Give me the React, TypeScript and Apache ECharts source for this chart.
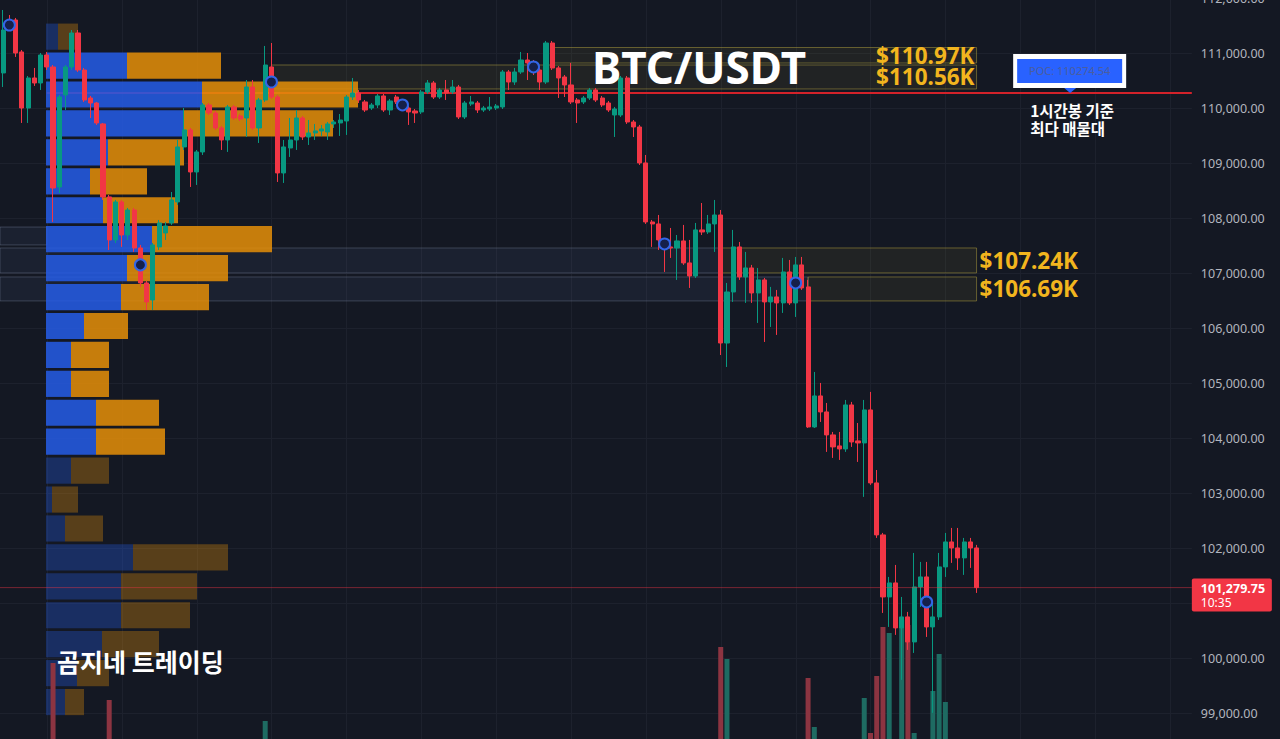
import React, { useEffect, useRef } from "react";
import * as echarts from "echarts";

// ---------- data ----------
const SLOT_COUNT = 191; // candle slots incl. empty right margin
const PRICE_MIN = 98000;
const PRICE_MAX = 112000;
const PRICE_INTERVAL = 1000;

// [open, close, low, high]  (1h candles)
const candles: number[][] = [
  [110637, 111418, 110382, 111782], [111528, 111491, 111418, 111691], [111600, 111000, 110928, 111637],
  [111019, 110000, 109728, 111055], [110000, 110546, 109728, 110582], [110546, 110455, 110401, 110728],
  [110455, 110964, 110328, 111000], [110964, 110746, 110691, 111019], [110746, 108546, 107928, 110782],
  [108564, 110200, 108455, 110237], [110237, 110746, 109964, 110782], [110746, 111364, 110691, 111418],
  [111364, 110691, 110655, 111418], [110691, 110146, 110110, 110728], [110182, 110091, 109819, 110219],
  [110091, 109728, 109692, 110110], [109710, 108383, 108328, 109728], [108383, 107601, 107419, 108419],
  [107601, 108292, 107546, 108328], [108292, 107691, 107474, 108328], [107691, 108146, 107601, 108183],
  [108146, 107455, 107383, 108183], [107455, 106819, 106747, 107510], [106819, 106474, 106328, 106856],
  [106510, 107510, 106328, 107546], [107474, 107910, 107419, 107964], [107728, 107855, 107601, 107928],
  [107910, 108328, 107874, 108473], [108292, 109292, 108237, 109419], [109292, 109601, 109237, 110000],
  [109601, 108837, 108564, 109637], [108837, 109201, 108601, 109237], [109201, 110055, 109146, 110091],
  [110055, 109909, 109873, 110091], [109909, 109637, 109601, 109946], [109637, 109419, 109237, 109673],
  [109419, 110019, 109201, 110055], [110019, 109819, 109782, 110055], [109855, 109800, 109764, 109891],
  [109819, 110382, 109473, 110509], [110382, 109637, 109601, 110509], [109637, 110146, 109364, 110182],
  [110146, 110782, 110110, 111128], [110746, 110200, 110164, 111182], [110200, 108819, 108655, 110237],
  [108819, 109292, 108637, 109419], [109273, 109419, 109110, 109819], [109419, 109819, 109237, 109964],
  [109819, 109473, 109419, 109855], [109473, 109546, 109328, 109782], [109546, 109583, 109419, 109710],
  [109583, 109619, 109492, 109692], [109564, 109710, 109419, 109746], [109710, 109746, 109637, 109782],
  [109728, 109782, 109492, 109891], [109764, 110200, 109510, 110237], [110200, 110273, 110146, 110546],
  [110273, 110146, 110091, 110328], [110110, 109964, 109928, 110146], [110000, 110055, 109964, 110091],
  [110055, 110219, 110000, 110255], [110219, 109964, 109928, 110255], [109964, 110128, 109873, 110164],
  [110200, 110110, 110073, 110237], [110073, 110037, 110000, 110128], [110000, 109928, 109692, 110037],
  [109946, 109909, 109728, 109982], [109928, 110291, 109891, 110328], [110291, 110455, 110255, 110509],
  [110455, 110200, 110164, 110491], [110200, 110328, 110164, 110364], [110328, 110273, 110146, 110509],
  [110291, 110382, 110255, 110509], [110382, 109837, 109800, 110419], [109837, 110091, 109800, 110128],
  [110073, 110110, 110037, 110219], [110091, 109964, 109909, 110128], [109964, 110000, 109928, 110037],
  [109982, 110019, 109946, 110200], [110000, 110037, 109964, 110073], [110019, 110655, 109982, 110691],
  [110655, 110473, 110328, 110691], [110473, 110655, 110419, 110728], [110655, 110873, 110619, 111019],
  [110873, 110819, 110509, 111000], [110800, 110691, 110600, 110873], [110691, 110473, 110328, 110728],
  [110473, 111182, 110437, 111219], [111182, 110728, 110691, 111219], [110728, 110546, 110182, 110764],
  [110564, 110419, 110200, 110600], [110419, 110110, 110073, 110819], [110146, 110091, 109728, 110182],
  [110110, 110182, 110073, 110219], [110182, 110328, 110146, 110364], [110328, 110146, 110110, 110364],
  [110182, 110055, 110019, 110219], [110091, 109964, 109928, 110128], [109873, 109982, 109473, 110019],
  [109873, 110546, 109837, 110582], [110546, 109746, 109710, 110582], [109746, 109655, 109473, 109782],
  [109655, 109001, 108964, 109692], [109001, 107928, 107892, 109146], [107928, 107892, 107474, 107964],
  [107892, 107601, 107419, 108055], [107601, 107492, 107019, 107637], [107474, 107455, 107274, 107819],
  [107455, 107583, 106874, 107691], [107583, 107183, 107147, 107874], [107183, 106946, 106728, 107601],
  [106946, 107783, 106910, 107910], [107783, 107746, 107691, 108273], [107746, 107892, 107710, 108055],
  [107892, 108055, 107383, 108328], [108055, 105727, 105509, 108146], [105727, 106655, 105291, 106819],
  [106655, 107474, 106474, 107783], [107474, 106928, 106874, 107564], [106928, 107092, 106456, 107383],
  [107092, 106637, 106456, 107147], [106637, 106874, 106092, 107092], [106874, 106474, 105746, 106910],
  [106474, 106565, 106019, 106747], [106565, 106456, 105874, 106692], [106456, 107019, 106274, 107274],
  [107019, 106456, 106419, 107237], [106456, 107147, 106201, 107292], [107147, 106728, 106692, 107292],
  [106747, 104201, 104183, 106874], [104201, 104765, 104183, 105201], [104765, 104474, 104292, 105001],
  [104474, 104056, 103747, 104637], [104056, 103838, 103638, 104110], [103856, 103801, 103601, 104110],
  [103801, 104601, 103747, 104692], [104601, 103928, 103838, 104656], [103947, 103910, 103565, 104273],
  [103910, 104510, 102929, 104692], [104510, 103183, 103147, 104838], [103183, 102238, 102183, 103418],
  [102238, 101110, 100819, 102274], [101110, 101365, 100565, 101474], [101365, 100547, 100420, 101692],
  [100547, 100747, 99602, 101110], [100747, 100292, 100147, 100838], [100292, 101292, 100092, 101910],
  [101292, 101474, 100929, 101747], [101474, 100565, 100383, 101747], [100565, 100747, 99002, 101001],
  [100747, 101656, 100692, 101910], [101656, 102110, 101474, 102274], [102110, 102001, 101729, 102365],
  [102001, 101820, 101601, 102365], [101820, 102110, 101511, 102183], [102110, 102001, 101638, 102183],
  [102001, 101279.75, 101183, 102056],
];

// [candle index, volume] for the volume bars that rise into view
const volumeBars: number[][] = [
  [8, 1050], [17, 680], [42, 470], [115, 1210], [116, 1090], [129, 900], [130, 410],
  [138, 700], [139, 350], [140, 920], [141, 1410], [142, 1350], [144, 1480], [145, 1430],
  [146, 350], [149, 770], [150, 1140], [151, 660],
];
const VOLUME_AXIS_MAX = 7700;

// pivot markers [candle index, price]
const pivotMarkers: number[][] = [
  [1, 111509], [22, 107147], [43, 110473], [64, 110055],
  [85, 110746], [106, 107528], [127, 106819], [148, 101019],
];

// volume profile rows, from the top
const profileTop = 111560;
const profileStep = 526;
const profileBuy = [12, 81, 156, 138, 62, 44, 57, 106, 81, 75, 38, 25, 25, 50, 50, 25, 6, 19, 87, 75, 75, 56, 31, 19];
const profileSell = [20, 94, 156, 149, 76, 57, 75, 120, 101, 88, 44, 38, 38, 63, 69, 38, 26, 38, 95, 76, 69, 57, 32, 19];
const valueAreaRows = [1, 14];
const pocPrice = 110274.54;
const pocStartIndex = 7;
const pocLabelIndex = 171;

// zones
const zoneFrom = [0, 0, 0, 88, 43, 115, 129];
const zoneTo = [7, 115, 129, 156, 156, 156, 156];
const zoneTop = [107836, 107455, 106928, 111100, 110782, 107455, 106928];
const zoneBottom = [107510, 107001, 106492, 110818, 110346, 107001, 106492];
const zoneKind = ["band", "band", "band", "box", "box", "box", "box"];
const zoneLabel = ["", "", "", "$110.97K", "$110.56K", "$107.24K", "$106.69K"];
const zoneLabelInside = [false, false, false, true, true, false, false];

// vertical time grid (candle indices)
const timeGridIdx = [7, 19, 31, 43, 55, 67, 79, 91, 103, 115, 127, 139, 151, 163, 175, 187];

const lastPrice = 101279.75;
const lastTime = "10:35";
const titleText = "BTC/USDT";
const brandText = "곰지네 트레이딩";
const pocNote1 = "1시간봉 기준";
const pocNote2 = "최다 매물대";

// ---------- style ----------
const BG = "#141823";
const UP = "#089981";
const DOWN = "#f23645";
const FONT = '"Noto Sans", "Open Sans", sans-serif';
const KFONT = '"Noto Sans CJK KR", "Noto Sans", sans-serif';
const GOLD = "#f2b51e";
const GRID_LINE = "#1d212d";

const fmtPrice = (v: number) =>
  v.toLocaleString("en-US", { minimumFractionDigits: 2, maximumFractionDigits: 2 });

const slots = Array.from({ length: SLOT_COUNT }, (_, i) => String(i));

function buildOption(): any {
  const volData: any[] = candles.map(() => "-");
  volumeBars.forEach(([i, v]) => {
    const c = candles[i];
    volData[i] = { value: v, itemStyle: { color: c[1] >= c[0] ? "#1e6b62" : "#8c3441" } };
  });

  return {
    animation: false,
    backgroundColor: BG,
    grid: [
      { left: 0, top: -2, width: 1191.84, height: 770, outerBoundsMode: "none", containLabel: false },
      { left: 46, top: -2, width: 400, height: 770, outerBoundsMode: "none", containLabel: false },
    ],
    xAxis: [
      { type: "category", gridIndex: 0, data: slots, show: false, boundaryGap: true },
      { type: "value", gridIndex: 1, min: 0, max: 400, show: false },
    ],
    yAxis: [
      {
        type: "value",
        gridIndex: 0,
        position: "right",
        min: PRICE_MIN,
        max: PRICE_MAX,
        interval: PRICE_INTERVAL,
        axisLine: { show: false },
        axisTick: { show: false },
        splitLine: { lineStyle: { color: GRID_LINE, width: 1 } },
        axisLabel: {
          color: "#b2b5be",
          fontSize: 12.5,
          fontFamily: FONT,
          margin: 9,
          showMinLabel: false,
          showMaxLabel: true,
          formatter: (v: number) => (Math.abs(v - lastPrice) < 500 ? "" : fmtPrice(v)),
        },
      },
      { type: "value", gridIndex: 1, min: PRICE_MIN, max: PRICE_MAX, show: false },
      { type: "value", gridIndex: 0, min: 0, max: VOLUME_AXIS_MAX, show: false },
    ],
    series: [
      // vertical time grid lines
      {
        type: "custom",
        xAxisIndex: 0,
        yAxisIndex: 0,
        z: 0,
        silent: true,
        encode: { x: 0 },
        data: timeGridIdx.map((i) => [i]),
        renderItem: (params: any, api: any) => {
          const cs = params.coordSys;
          const x = Math.round(api.coord([api.value(0), PRICE_MIN])[0]) + 0.5;
          return {
            type: "line",
            shape: { x1: x, y1: cs.y, x2: x, y2: cs.y + cs.height },
            style: { stroke: GRID_LINE, lineWidth: 1 },
          };
        },
      },
      // zones
      {
        type: "custom",
        xAxisIndex: 0,
        yAxisIndex: 0,
        z: 1,
        silent: true,
        encode: { x: [0, 1], y: [2, 3] },
        data: zoneFrom.map((f, i) => [f, zoneTo[i], zoneTop[i], zoneBottom[i]]),
        renderItem: (params: any, api: any) => {
          const idx = params.dataIndex;
          const from = api.value(0);
          const to = api.value(1);
          const a = api.coord([from, api.value(2)]);
          const b = api.coord([to, api.value(3)]);
          const bw = api.size([1, 0])[0];
          const x0 = from === 0 ? a[0] - bw / 2 : a[0];
          const isBox = zoneKind[idx] === "box";
          const children: any[] = [
            {
              type: "rect",
              shape: { x: x0, y: a[1], width: b[0] - x0, height: b[1] - a[1] },
              style: {
                fill: isBox ? "rgba(170,160,60,0.09)" : "rgba(100,120,170,0.10)",
                stroke: isBox ? "rgba(165,150,60,0.55)" : "rgba(130,140,165,0.35)",
                lineWidth: 1,
              },
            },
          ];
          if (zoneLabel[idx]) {
            const inside = zoneLabelInside[idx];
            children.push({
              type: "text",
              x: inside ? b[0] - 2 : b[0] + 3,
              y: (a[1] + b[1]) / 2,
              z2: 10,
              style: {
                text: zoneLabel[idx],
                fill: GOLD,
                fontSize: 22.5,
                lineHeight: 20,
                fontWeight: "bold",
                fontFamily: FONT,
                align: inside ? "right" : "left",
                verticalAlign: "middle",
              },
            });
          }
          return { type: "group", children };
        },
      },
      // POC line (under profile)
      {
        type: "custom",
        xAxisIndex: 0,
        yAxisIndex: 0,
        z: 2,
        silent: true,
        encode: { x: 0, y: 1 },
        data: [[pocStartIndex, pocPrice]],
        renderItem: (params: any, api: any) => {
          const cs = params.coordSys;
          const p = api.coord([api.value(0), api.value(1)]);
          return {
            type: "line",
            shape: { x1: p[0], y1: p[1], x2: cs.x + cs.width, y2: p[1] },
            style: { stroke: "#d3222a", lineWidth: 2 },
          };
        },
      },
      // volume profile
      {
        type: "custom",
        xAxisIndex: 1,
        yAxisIndex: 1,
        z: 3,
        silent: true,
        encode: { x: [0, 1], y: 2 },
        data: profileBuy.map((b, k) => [b, profileSell[k], profileTop - k * profileStep]),
        renderItem: (params: any, api: any) => {
          const k = params.dataIndex;
          const buy = api.value(0);
          const sell = api.value(1);
          const top = api.value(2);
          const gap = 25;
          const a = api.coord([0, top - gap]);
          const b = api.coord([buy, top - profileStep + gap]);
          const c = api.coord([buy + sell, top - profileStep + gap]);
          const inVA = k >= valueAreaRows[0] && k <= valueAreaRows[1];
          return {
            type: "group",
            children: [
              {
                type: "rect",
                shape: { x: a[0], y: a[1], width: b[0] - a[0], height: b[1] - a[1] },
                style: { fill: inVA ? "rgba(37,92,229,0.86)" : "rgba(37,92,229,0.33)" },
              },
              {
                type: "rect",
                shape: { x: b[0], y: a[1], width: c[0] - b[0], height: b[1] - a[1] },
                style: { fill: inVA ? "rgba(228,142,8,0.86)" : "rgba(228,142,8,0.33)" },
              },
            ],
          };
        },
      },
      // volume bars
      {
        type: "bar",
        xAxisIndex: 0,
        yAxisIndex: 2,
        z: 3,
        barWidth: 5,
        silent: true,
        data: volData,
      },
      // candles
      {
        type: "candlestick",
        xAxisIndex: 0,
        yAxisIndex: 0,
        z: 4,
        barWidth: 4.6,
        silent: true,
        data: candles,
        itemStyle: {
          color: UP,
          color0: DOWN,
          borderColor: UP,
          borderColor0: DOWN,
          borderWidth: 1,
        },
      },
      // pivot markers
      {
        type: "scatter",
        xAxisIndex: 0,
        yAxisIndex: 0,
        z: 5,
        silent: true,
        symbol: "circle",
        symbolSize: 11,
        data: pivotMarkers,
        itemStyle: { color: "#16204a", borderColor: "#3366e8", borderWidth: 2, opacity: 1 },
      },
      // last price line + tag
      {
        type: "custom",
        xAxisIndex: 0,
        yAxisIndex: 0,
        z: 6,
        silent: true,
        encode: { x: 0, y: 1 },
        data: [[candles.length - 1, lastPrice]],
        renderItem: (params: any, api: any) => {
          const cs = params.coordSys;
          const y = api.coord([api.value(0), api.value(1)])[1];
          const right = cs.x + cs.width;
          return {
            type: "group",
            children: [
              {
                type: "line",
                shape: { x1: cs.x, y1: y, x2: right, y2: y },
                style: { stroke: "rgba(242,54,69,0.45)", lineWidth: 1 },
              },
              {
                type: "rect",
                shape: { x: right, y: y - 9, width: 80, height: 33, r: 2 },
                style: { fill: DOWN },
              },
              {
                type: "text",
                x: right + 9,
                y: y + 1,
                style: {
                  text: fmtPrice(lastPrice),
                  fill: "#ffffff",
                  fontSize: 12.5,
                  lineHeight: 13,
                  fontWeight: "bold",
                  fontFamily: FONT,
                  verticalAlign: "middle",
                },
              },
              {
                type: "text",
                x: right + 9,
                y: y + 15,
                style: {
                  text: lastTime,
                  fill: "#ffffff",
                  fontSize: 12,
                  lineHeight: 13,
                  fontFamily: FONT,
                  verticalAlign: "middle",
                },
              },
            ],
          };
        },
      },
      // POC label
      {
        type: "custom",
        xAxisIndex: 0,
        yAxisIndex: 0,
        z: 10,
        silent: true,
        encode: { x: 0, y: 1 },
        data: [[pocLabelIndex, pocPrice]],
        renderItem: (params: any, api: any) => {
          const p = api.coord([api.value(0), api.value(1)]);
          const ax = p[0];
          const ay = p[1];
          return {
            type: "group",
            children: [
              { type: "rect", shape: { x: ax - 57, y: ay - 39, width: 113, height: 34 }, style: { fill: "#ffffff" } },
              { type: "rect", shape: { x: ax - 53, y: ay - 34, width: 105, height: 24 }, style: { fill: "#2962ff" } },
              {
                type: "text",
                x: ax - 0.5,
                y: ay - 22,
                style: {
                  text: "POC: " + pocPrice,
                  fill: "#4b5e9e",
                  fontSize: 11,
                  fontFamily: FONT,
                  align: "center",
                  verticalAlign: "middle",
                },
              },
              {
                type: "polygon",
                shape: { points: [[ax - 6, ay - 5], [ax + 6, ay - 5], [ax, ay]] },
                style: { fill: "#2962ff" },
              },
              {
                type: "text",
                x: ax - 40,
                y: ay + 17,
                style: { text: pocNote1, fill: "#ffffff", fontSize: 15.5, lineHeight: 16, fontWeight: "bold", fontFamily: KFONT, verticalAlign: "middle" },
              },
              {
                type: "text",
                x: ax - 40,
                y: ay + 35,
                style: { text: pocNote2, fill: "#ffffff", fontSize: 15.5, lineHeight: 16, fontWeight: "bold", fontFamily: KFONT, verticalAlign: "middle" },
              },
            ],
          };
        },
      },
    ],
    graphic: [
      {
        type: "text",
        x: 699,
        y: 67,
        z: 20,
        silent: true,
        style: {
          text: titleText,
          fill: "#ffffff",
          fontSize: 44,
          fontWeight: "bold",
          fontFamily: FONT,
          align: "center",
          verticalAlign: "middle",
        },
      },
      {
        type: "text",
        x: 57,
        y: 661,
        z: 20,
        silent: true,
        style: {
          text: brandText,
          fill: "#ffffff",
          fontSize: 25,
          fontWeight: "bold",
          fontFamily: KFONT,
          verticalAlign: "middle",
        },
      },
    ],
  };
}

export default function App() {
  const ref = useRef<HTMLDivElement>(null);
  useEffect(() => {
    if (!ref.current) return;
    const chart = echarts.init(ref.current, null, { renderer: "svg" });
    chart.setOption(buildOption());
    return () => chart.dispose();
  }, []);
  return (
    <div style={{ position: "fixed", left: 0, top: 0, width: 1280, height: 739, overflow: "hidden", background: BG }}>
      <div ref={ref} style={{ width: 1280, height: 739 }} />
    </div>
  );
}
